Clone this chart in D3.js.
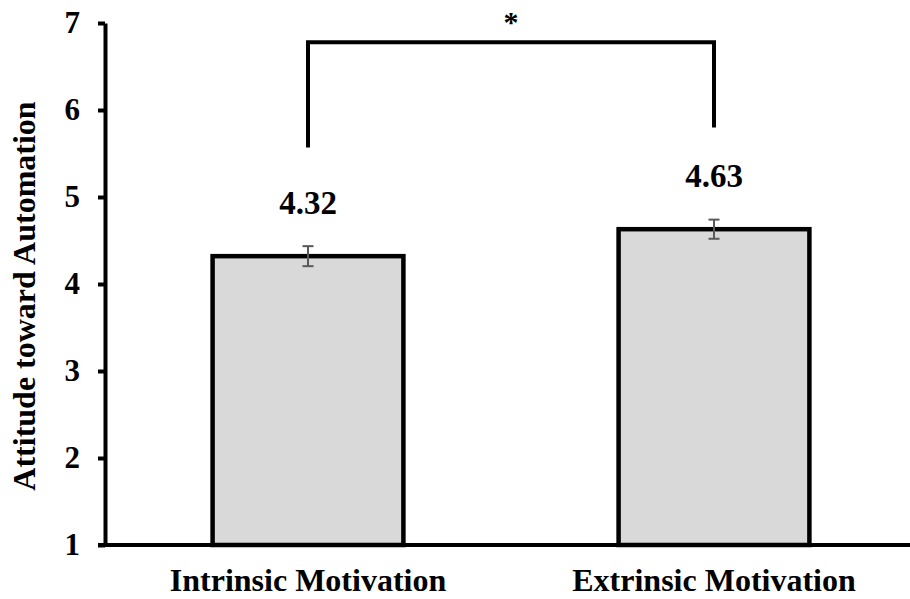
<!DOCTYPE html>
<html>
<head>
<meta charset="utf-8">
<script src="https://cdn.jsdelivr.net/npm/d3@7"></script>
<style>
	body { margin: 0; background: #fff; }
	text { font-family: "Liberation Serif", "Times New Roman", serif; font-weight: bold; }
</style>
</head>
<body>
<div id="chart"></div>
<script>
var categories = ["Intrinsic Motivation", "Extrinsic Motivation"];
var means = [4.32, 4.63];
var errors = [0.115, 0.11];
var yTicks = [1, 2, 3, 4, 5, 6, 7];
var yTitle = "Attitude toward Automation";
// significance bracket, in data units
var bracketTop = 6.78;
var bracketFeet = [5.57, 5.80];
var sigMark = "*";

var width = 910, height = 599;
var margins = {top: 23, right: -7, bottom: 54, left: 105};

var svg = d3.select("#chart").append("svg")
	.attr("width", width)
	.attr("height", height);

var x = d3.scaleBand()
	.domain(categories)
	.range([margins.left, width - margins.right])
	.paddingInner(0.53)
	.paddingOuter(0.265);

var y = d3.scaleLinear()
	.domain([1, 7])
	.range([height - margins.bottom, margins.top]);

var data = categories.map(function(c, i){ return {key: c, value: means[i], err: errors[i]}; });

// bars
svg.selectAll("rect.bar")
	.data(data)
	.enter().append("rect")
	.attr("class", "bar")
	.attr("x", function(d){ return x(d.key); })
	.attr("y", function(d){ return y(d.value); })
	.attr("width", x.bandwidth())
	.attr("height", function(d){ return y(1) - y(d.value); })
	.attr("fill", "#d9d9d9")
	.attr("stroke", "#000")
	.attr("stroke-width", 4.5);

// error bars
var eb = svg.selectAll("g.err")
	.data(data)
	.enter().append("g")
	.attr("class", "err")
	.attr("stroke", "#595959")
	.attr("stroke-width", 2);
eb.append("line")
	.attr("x1", function(d){ return x(d.key) + x.bandwidth()/2; })
	.attr("x2", function(d){ return x(d.key) + x.bandwidth()/2; })
	.attr("y1", function(d){ return y(d.value + d.err); })
	.attr("y2", function(d){ return y(d.value - d.err); });
eb.selectAll("line.cap")
	.data(function(d){ return [d.value + d.err, d.value - d.err].map(function(v){ return {key: d.key, v: v}; }); })
	.enter().append("line")
	.attr("class", "cap")
	.attr("x1", function(d){ return x(d.key) + x.bandwidth()/2 - 5.5; })
	.attr("x2", function(d){ return x(d.key) + x.bandwidth()/2 + 5.5; })
	.attr("y1", function(d){ return y(d.v); })
	.attr("y2", function(d){ return y(d.v); });

// value labels
svg.selectAll("text.label")
	.data(data)
	.enter().append("text")
	.attr("class", "label")
	.attr("x", function(d){ return x(d.key) + x.bandwidth()/2; })
	.attr("y", function(d){ return y(d.value) - 42; })
	.attr("text-anchor", "middle")
	.attr("font-size", "33px")
	.text(function(d){ return d.value.toFixed(2); });

// axes
var yAxis = svg.append("g")
	.attr("transform", "translate(" + margins.left + ",0)")
	.call(d3.axisLeft(y).tickValues(yTicks).tickFormat(d3.format("d")).tickSize(7).tickSizeOuter(0));
yAxis.select(".domain").attr("stroke-width", 4);
yAxis.selectAll(".tick line").attr("stroke-width", 4);
yAxis.selectAll(".tick text")
	.attr("font-size", "31px")
	.attr("x", -25)
	.attr("font-family", "Liberation Serif, serif");

var xAxis = svg.append("g")
	.attr("transform", "translate(0," + y(1) + ")")
	.call(d3.axisBottom(x).tickSize(0).tickSizeOuter(0));
xAxis.select(".domain").attr("stroke-width", 4).attr("d", "M98,0H" + width);
xAxis.selectAll(".tick text")
	.attr("font-size", "32px")
	.attr("y", 23)
	.attr("font-family", "Liberation Serif, serif");

// y title
svg.append("text")
	.attr("transform", "translate(35," + ((y(1) + y(7))/2 + 12) + ") rotate(-90)")
	.attr("text-anchor", "middle")
	.attr("font-size", "32px")
	.text(yTitle);

// significance bracket
var bx = data.map(function(d){ return x(d.key) + x.bandwidth()/2; });
svg.append("path")
	.attr("d", "M" + bx[0] + "," + y(bracketFeet[0]) + "V" + y(bracketTop) + "H" + bx[1] + "V" + y(bracketFeet[1]))
	.attr("fill", "none")
	.attr("stroke", "#000")
	.attr("stroke-width", 4);
svg.append("text")
	.attr("x", (bx[0] + bx[1])/2)
	.attr("y", y(bracketTop) - 10)
	.attr("text-anchor", "middle")
	.attr("font-size", "30px")
	.text(sigMark);
</script>
</body>
</html>
